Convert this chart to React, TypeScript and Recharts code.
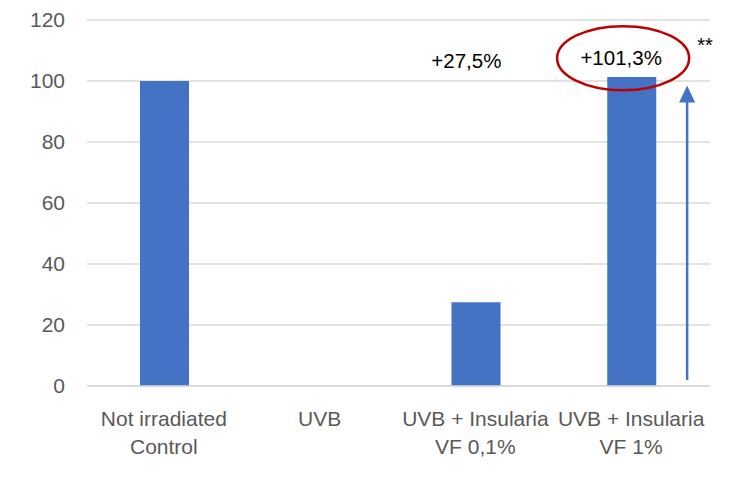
import { BarChart, Bar, XAxis, YAxis, CartesianGrid, ReferenceDot, ReferenceLine } from 'recharts';

const categories = ['Not irradiated\nControl', 'UVB', 'UVB + Insularia\nVF 0,1%', 'UVB + Insularia\nVF 1%'];
const values = [100, 0, 27.5, 101.3];
const changeLabels = ['', '', '+27,5%', '+101,3%'];
const yTicks = [0, 20, 40, 60, 80, 100, 120];

const labelLevel = 107.5;
const arrowFrom = 2;
const arrowTo = 98.5;

const data = categories.map((name, i) => ({ name, value: values[i] }));

const FONT = '"Liberation Sans", Arial, sans-serif';
const BLUE = '#4472C4';

const MultiLineTick = ({ x, y, payload }: any) => {
    const lines = String(payload.value).split('\n');
    return (
        <text x={x} y={y} textAnchor="middle" fill="#595959" fontSize={21} fontFamily={FONT}>
            {lines.map((line: string, i: number) => (
                <tspan key={i} x={x - 1} dy={i === 0 ? 32 : 28}>{line}</tspan>
            ))}
        </text>
    );
};

// arrow drawn next to the last bar, from arrowFrom up to arrowTo
const Arrow = ({ x1, y1, y2 }: any) => {
    const ax = x1 + 55;
    const top = Math.min(y1, y2);
    const bottom = Math.max(y1, y2);
    return (
        <g>
            <line x1={ax} y1={bottom} x2={ax} y2={top + 15} stroke={BLUE} strokeWidth={2.5} />
            <polygon points={`${ax},${top} ${ax - 8},${top + 17} ${ax + 8},${top + 17}`} fill={BLUE} />
        </g>
    );
};

export default function App() {
    return (
        <div style={{ position: 'absolute', left: 0, top: 0, background: '#fff' }}>
            <BarChart
                width={734}
                height={485}
                data={data}
                margin={{ top: 20, right: 24, bottom: 0, left: 0 }}
            >
                <CartesianGrid stroke="#d9d9d9" strokeWidth={1.3} vertical={false} />
                <XAxis
                    dataKey="name"
                    axisLine={{ stroke: '#d9d9d9', strokeWidth: 1.3 }}
                    tickLine={false}
                    interval={0}
                    tick={<MultiLineTick />}
                    height={99}
                />
                <YAxis
                    domain={[0, 120]}
                    ticks={yTicks}
                    axisLine={false}
                    tickLine={false}
                    tickSize={0}
                    tickMargin={22}
                    width={87}
                    tick={{ fill: '#595959', fontSize: 21, fontFamily: FONT }}
                />
                <Bar dataKey="value" fill={BLUE} barSize={49} isAnimationActive={false} />
                <ReferenceDot
                    x={categories[2]}
                    y={labelLevel}
                    r={0}
                    shape={({ cx, cy }: any) => (
                        <text x={cx - 10} y={cy + 2} textAnchor="middle" dominantBaseline="central" fontSize={20.5} fontFamily={FONT} fill="#000">
                            {changeLabels[2]}
                        </text>
                    )}
                />
                <ReferenceDot
                    x={categories[3]}
                    y={labelLevel}
                    r={0}
                    shape={({ cx, cy }: any) => (
                        <g>
                            <ellipse cx={cx - 9} cy={cy} rx={66} ry={32} fill="none" stroke="#C00000" strokeWidth={2.5} />
                            <text x={cx - 11} y={cy - 1} textAnchor="middle" dominantBaseline="central" fontSize={20.5} fontFamily={FONT} fill="#000">
                                {changeLabels[3]}
                            </text>
                            <text x={cx + 73} y={cy - 6} textAnchor="middle" fontSize={20} fontFamily={FONT} fill="#000">**</text>
                        </g>
                    )}
                />
                <ReferenceLine
                    segment={[{ x: categories[3], y: arrowFrom }, { x: categories[3], y: arrowTo }]}
                    shape={<Arrow />}
                />
            </BarChart>
        </div>
    );
}
